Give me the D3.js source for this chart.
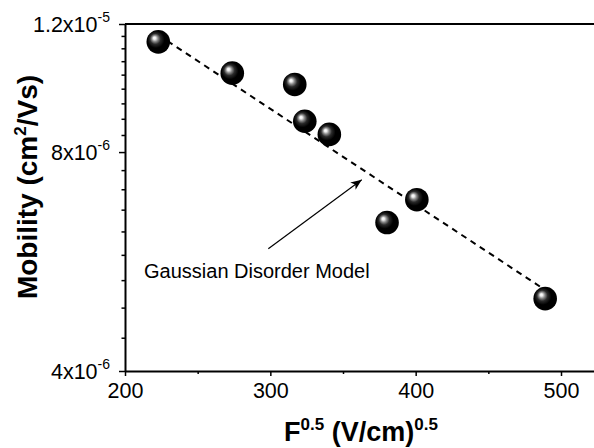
<!DOCTYPE html>
<html>
<head>
<meta charset="utf-8">
<script src="https://cdn.jsdelivr.net/npm/d3@7"></script>
<style>
  body { margin: 0; background: #fff; }
  svg { display: block; font-family: Arial, "Liberation Sans", sans-serif; }
</style>
</head>
<body>
<div id="chart"></div>
<script>
// measured points (sqrt of field vs mobility)
const fieldSqrt = [222.9, 273.8, 316.8, 323.7, 340.6, 380.3, 400.8, 489.1];
const mobility = [1.134e-5, 1.027e-5, 9.91e-6, 8.82e-6, 8.46e-6, 6.40e-6, 6.88e-6, 5.03e-6];

// GDM fit line, ends only
const fitX = [222.9, 489.1];
const fitY = [1.159e-5, 5.17e-6];

const xTicks = [200, 300, 400, 500];
const xMinor = [250, 350, 450];
const yTicks = [4e-6, 8e-6, 1.2e-5];
const yTickBase = ["4x10", "8x10", "1.2x10"];
const yTickExp = ["-6", "-6", "-5"];

// annotation: text anchor + arrow start/end in data units
const noteText = "Gaussian Disorder Model";
const notePos = [213.1, 5.37e-6];
const arrowFrom = [298.6, 5.89e-6];
const arrowTo = [362.9, 7.33e-6];

const width = 594,
    height = 448,
    margin = ({ top: 24, right: 0, bottom: 77, left: 125 });

const svg = d3.select("#chart")
    .append("svg")
    .attr("width", width)
    .attr("height", height);

let x = d3.scaleLinear()
    .domain([200, 522.7])
    .range([margin.left, width - margin.right]);

let y = d3.scaleLog()
    .domain([4e-6, 1.2e-5])
    .range([height - margin.bottom, margin.top]);

// minor y ticks: 8 per major interval (linear steps)
let yMinor = [];
for (let i = 0; i < yTicks.length - 1; i++) {
    let step = (yTicks[i + 1] - yTicks[i]) / 9;
    for (let k = 1; k <= 8; k++) yMinor.push(yTicks[i] + k * step);
}

const defs = svg.append("defs");
const grad = defs.append("radialGradient")
    .attr("id", "ball")
    .attr("cx", "45%").attr("cy", "45%").attr("r", "60%")
    .attr("fx", "33%").attr("fy", "33%");
grad.append("stop").attr("offset", "0%").attr("stop-color", "#fff");
grad.append("stop").attr("offset", "9%").attr("stop-color", "#eee");
grad.append("stop").attr("offset", "22%").attr("stop-color", "#8a8a8a");
grad.append("stop").attr("offset", "38%").attr("stop-color", "#2a2a2a");
grad.append("stop").attr("offset", "60%").attr("stop-color", "#000");
grad.append("stop").attr("offset", "100%").attr("stop-color", "#000");

defs.append("marker")
    .attr("id", "arrow")
    .attr("viewBox", "-12 -6 14 12")
    .attr("refX", 0).attr("refY", 0)
    .attr("markerWidth", 14).attr("markerHeight", 12)
    .attr("markerUnits", "userSpaceOnUse")
    .attr("orient", "auto")
    .append("path")
    .attr("d", "M0,0 L-11,-4.5 L-8,0 L-11,4.5 Z")
    .attr("fill", "#000");

// x axis
let xAxis = svg.append("g")
    .attr("transform", `translate(0,${height - margin.bottom})`)
    .call(d3.axisBottom(x).tickValues(xTicks).tickSize(5).tickSizeOuter(0).tickPadding(7));
xAxis.select(".domain").attr("stroke-width", 2);
xAxis.selectAll(".tick line").attr("stroke-width", 1.5);
xAxis.selectAll("text").attr("font-size", 21.5).attr("fill", "#000");

svg.append("g")
    .attr("transform", `translate(0,${height - margin.bottom})`)
    .call(d3.axisBottom(x).tickValues(xMinor).tickSize(3).tickFormat(""))
    .call(g => g.select(".domain").remove())
    .selectAll("line").attr("stroke-width", 1.5);

// top frame line
svg.append("line")
    .attr("x1", margin.left).attr("x2", width)
    .attr("y1", margin.top).attr("y2", margin.top)
    .attr("stroke", "#000").attr("stroke-width", 2);

// y axis
let yAxis = svg.append("g")
    .attr("transform", `translate(${margin.left},0)`)
    .call(d3.axisLeft(y).tickValues(yTicks).tickSize(6).tickSizeOuter(0).tickPadding(9));
yAxis.select(".domain").attr("stroke-width", 2);
yAxis.selectAll(".tick line").attr("stroke-width", 1.5);
yAxis.selectAll("text")
    .attr("font-size", 21.5)
    .attr("fill", "#000")
    .attr("dy", "0.36em")
    .each(function(d, i) {
        let t = d3.select(this).text(null);
        t.append("tspan").text(yTickBase[i]);
        t.append("tspan").attr("font-size", 14).attr("dy", "-0.75em").text(yTickExp[i]);
    });

svg.append("g")
    .attr("transform", `translate(${margin.left},0)`)
    .call(d3.axisLeft(y).tickValues(yMinor).tickSize(3.5).tickFormat(""))
    .call(g => g.select(".domain").remove())
    .selectAll("line").attr("stroke-width", 1.5);

// axis titles
let xTitle = svg.append("text")
    .attr("x", 361)
    .attr("y", 441)
    .attr("text-anchor", "middle")
    .attr("font-size", 27)
    .attr("font-weight", "bold");
xTitle.append("tspan").text("F");
xTitle.append("tspan").attr("font-size", 17).attr("dy", -11).text("0.5");
xTitle.append("tspan").attr("dy", 11).text(" (V/cm)");
xTitle.append("tspan").attr("font-size", 17).attr("dy", -11).text("0.5");

let yTitle = svg.append("text")
    .attr("transform", "translate(37,187) rotate(-90)")
    .attr("text-anchor", "middle")
    .attr("font-size", 28)
    .attr("font-weight", "bold");
yTitle.append("tspan").text("Mobility (cm");
yTitle.append("tspan").attr("font-size", 17).attr("dy", -11).text("2");
yTitle.append("tspan").attr("dy", 11).text("/Vs)");

// fit line
let line = d3.line()
    .x(d => x(d[0]))
    .y(d => y(d[1]));

svg.append("path")
    .datum(d3.zip(fitX, fitY))
    .attr("fill", "none")
    .attr("stroke", "#000")
    .attr("stroke-width", 2)
    .attr("stroke-dasharray", "6,5")
    .attr("d", line);

// annotation
svg.append("line")
    .attr("x1", x(arrowFrom[0])).attr("y1", y(arrowFrom[1]))
    .attr("x2", x(arrowTo[0])).attr("y2", y(arrowTo[1]))
    .attr("stroke", "#000")
    .attr("stroke-width", 1.2)
    .attr("marker-end", "url(#arrow)");

svg.append("text")
    .attr("x", x(notePos[0]))
    .attr("y", y(notePos[1]))
    .attr("font-size", 20)
    .text(noteText);

// points
svg.append("g")
    .selectAll("circle")
    .data(d3.zip(fieldSqrt, mobility))
    .join("circle")
    .attr("cx", d => x(d[0]))
    .attr("cy", d => y(d[1]))
    .attr("r", 11.8)
    .attr("fill", "url(#ball)");
</script>
</body>
</html>
